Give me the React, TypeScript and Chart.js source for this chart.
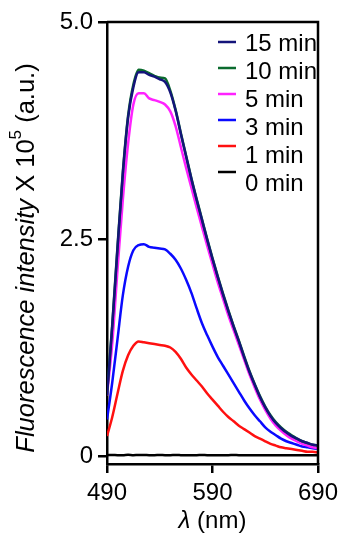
import React, { useEffect, useRef } from "react";
import { Chart, registerables } from "chart.js";

Chart.register(...registerables);

const wavelengths = [
  490, 495, 500, 505, 510, 515, 520, 525, 530, 535, 540, 545, 550, 555, 560, 565, 570, 575, 580, 585,
  590, 595, 600, 605, 610, 615, 620, 625, 630, 635, 640, 645, 650, 655, 660, 665, 670, 675, 680, 685, 690,
];

const min15 = [
  0.7, 1.5, 2.4, 3.25, 3.9, 4.25, 4.42, 4.42, 4.39, 4.37, 4.34, 4.31, 4.19, 3.98, 3.71, 3.45, 3.19, 2.95, 2.72, 2.49,
  2.27, 2.06, 1.86, 1.67, 1.49, 1.32, 1.14, 0.97, 0.82, 0.68, 0.56, 0.46, 0.38, 0.32, 0.27, 0.23, 0.2, 0.17, 0.15, 0.13, 0.12,
];
const min10 = [
  0.71, 1.52, 2.42, 3.27, 3.92, 4.28, 4.45, 4.44, 4.41, 4.38, 4.36, 4.35, 4.21, 3.99, 3.72, 3.46, 3.2, 2.96, 2.73, 2.5,
  2.28, 2.07, 1.87, 1.68, 1.5, 1.33, 1.15, 0.98, 0.83, 0.69, 0.57, 0.47, 0.39, 0.33, 0.28, 0.24, 0.2, 0.17, 0.15, 0.13, 0.12,
];
const min5 = [
  0.7, 1.3, 2.15, 2.95, 3.6, 4.05, 4.18, 4.18, 4.12, 4.1, 4.08, 4.05, 3.97, 3.8, 3.56, 3.32, 3.09, 2.86, 2.64, 2.42,
  2.21, 2.0, 1.81, 1.62, 1.45, 1.28, 1.11, 0.94, 0.79, 0.65, 0.53, 0.43, 0.35, 0.29, 0.24, 0.2, 0.17, 0.14, 0.12, 0.1, 0.09,
];
const min3 = [
  0.42, 0.85, 1.35, 1.85, 2.18, 2.37, 2.43, 2.44, 2.41, 2.4, 2.39, 2.38, 2.33, 2.26, 2.16, 2.03, 1.88, 1.7, 1.53, 1.39,
  1.26, 1.14, 1.04, 0.94, 0.84, 0.74, 0.64, 0.55, 0.47, 0.4, 0.33, 0.28, 0.24, 0.2, 0.17, 0.15, 0.13, 0.11, 0.1, 0.09, 0.08,
];
const min1 = [
  0.23, 0.45, 0.72, 0.98, 1.16, 1.27, 1.32, 1.31, 1.3, 1.29, 1.28, 1.27, 1.25, 1.2, 1.12, 1.02, 0.94, 0.87, 0.8, 0.72,
  0.65, 0.58, 0.51, 0.45, 0.4, 0.35, 0.31, 0.27, 0.23, 0.2, 0.17, 0.14, 0.12, 0.1, 0.09, 0.08, 0.07, 0.06, 0.05, 0.05, 0.04,
];
const min0 = [
  0.01, 0.012, 0.01, 0.01, 0.014, 0.01, 0.012, 0.012, 0.01, 0.01, 0.013, 0.01, 0.01, 0.012, 0.01, 0.008, 0.01, 0.01, 0.012, 0.01,
  0.01, 0.008, 0.01, 0.01, 0.012, 0.01, 0.01, 0.008, 0.01, 0.01, 0.01, 0.008, 0.01, 0.01, 0.008, 0.01, 0.01, 0.008, 0.01, 0.01, 0.01,
];

const seriesNames = ["15 min", "10 min", "5 min", "3 min", "1 min", "0 min"];
const seriesValues = [min15, min10, min5, min3, min1, min0];
const seriesColors = ["#14147a", "#0b6b2e", "#ff22ff", "#0a0aff", "#ff1010", "#000000"];

const xTickValues = [490, 590, 690];
const yTickValues = [0, 2.5, 5];
const yTickLabels = ["0", "2.5", "5.0"];

const FONT = '"Liberation Sans", Arial, sans-serif';

const framePlugin = {
  id: "frame",
  afterDraw(chart: any) {
    const { ctx, chartArea } = chart;
    const { left, right, top, bottom } = chartArea;
    ctx.save();
    ctx.strokeStyle = "#000";
    ctx.lineWidth = 2.5;
    ctx.beginPath();
    ctx.moveTo(left, top);
    ctx.lineTo(right, top);
    ctx.lineTo(right, bottom);
    ctx.stroke();

    // legend
    ctx.font = `24px ${FONT}`;
    ctx.textBaseline = "middle";
    ctx.textAlign = "left";
    seriesNames.forEach((name, i) => {
      const ty = top + 21 + i * 28;
      const my = ty - 1 - i * 2;
      ctx.strokeStyle = seriesColors[i];
      ctx.lineWidth = 2.5;
      ctx.beginPath();
      ctx.moveTo(right - 100, my);
      ctx.lineTo(right - 82, my);
      ctx.stroke();
      ctx.fillStyle = "#000";
      ctx.fillText(name, right - 73, ty + 1);
    });

    // y title
    const cx = 27;
    const cy = 258;
    const fs = 25.5;
    const parts = [
      { t: "Fluorescence intensity", f: `italic ${fs}px ${FONT}`, dy: 0 },
      { t: " X 10", f: `${fs}px ${FONT}`, dy: 0 },
      { t: "5", f: `${Math.round(fs * 0.68)}px ${FONT}`, dy: -fs * 0.42 },
      { t: " (a.u.)", f: `${fs}px ${FONT}`, dy: 0 },
    ];
    let total = 0;
    parts.forEach((p) => {
      ctx.font = p.f;
      total += ctx.measureText(p.t).width;
    });
    ctx.translate(cx, cy);
    ctx.rotate(-Math.PI / 2);
    ctx.fillStyle = "#000";
    ctx.textBaseline = "middle";
    let x = -total / 2;
    parts.forEach((p) => {
      ctx.font = p.f;
      ctx.fillText(p.t, x, p.dy);
      x += ctx.measureText(p.t).width;
    });
    ctx.restore();

    // x title
    ctx.save();
    ctx.fillStyle = "#000";
    ctx.textBaseline = "middle";
    const xparts = [
      { t: "\u03bb", f: `italic 24px ${FONT}` },
      { t: " (nm)", f: `24px ${FONT}` },
    ];
    let tw = 0;
    xparts.forEach((p) => {
      ctx.font = p.f;
      tw += ctx.measureText(p.t).width;
    });
    let xx = (left + right) / 2 - tw / 2;
    xparts.forEach((p) => {
      ctx.font = p.f;
      ctx.fillText(p.t, xx, 521);
      xx += ctx.measureText(p.t).width;
    });
    ctx.restore();
  },
};

export default function App() {
  const ref = useRef<HTMLCanvasElement | null>(null);

  useEffect(() => {
    if (!ref.current) return;
    const chart = new Chart(ref.current, {
      type: "line",
      data: {
        datasets: seriesNames.map((name, i) => ({
          label: name,
          data: wavelengths.map((w, j) => ({ x: w, y: seriesValues[i][j] })),
          borderColor: seriesColors[i],
          backgroundColor: seriesColors[i],
          borderWidth: 2.5,
          pointRadius: 0,
          cubicInterpolationMode: "monotone" as const,
          fill: false,
        })),
      },
      options: {
        responsive: false,
        animation: false,
        layout: { padding: { top: 22, right: 22, left: 0, bottom: 0 } },
        plugins: { legend: { display: false }, tooltip: { enabled: false }, title: { display: false } },
        scales: {
          x: {
            type: "linear",
            min: 490,
            max: 690,
            afterBuildTicks: (s: any) => {
              s.ticks = xTickValues.map((v) => ({ value: v }));
            },
            afterFit: (s: any) => {
              s.height = 75;
              s.paddingLeft = 0;
              s.paddingRight = 0;
            },
            border: { display: true, color: "#000", width: 2.5 },
            grid: { display: true, drawOnChartArea: false, drawTicks: true, tickLength: 9, color: "#000", lineWidth: 2.5 },
            ticks: {
              color: "#000",
              font: { family: FONT, size: 24 },
              padding: 6,
              maxRotation: 0,
              callback: (v: any) => String(v),
            },
          },
          y: {
            type: "linear",
            min: -0.092,
            max: 5,
            afterBuildTicks: (s: any) => {
              s.ticks = yTickValues.map((v) => ({ value: v }));
            },
            afterFit: (s: any) => {
              s.width = 107;
              s.paddingTop = 0;
              s.paddingBottom = 0;
            },
            border: { display: true, color: "#000", width: 2.5 },
            grid: { display: true, drawOnChartArea: false, drawTicks: true, tickLength: 9, color: "#000", lineWidth: 2.5 },
            ticks: {
              color: "#000",
              font: { family: FONT, size: 24 },
              padding: 5,
              callback: (v: any) => {
                const idx = yTickValues.indexOf(Number(v));
                return idx >= 0 ? yTickLabels[idx] : "";
              },
            },
          },
        },
      },
      plugins: [framePlugin],
    });
    return () => chart.destroy();
  }, []);

  return (
    <div style={{ position: "absolute", left: 0, top: 0, width: 340, height: 539, background: "#fff" }}>
      <canvas ref={ref} width={340} height={539} style={{ display: "block" }} />
    </div>
  );
}
